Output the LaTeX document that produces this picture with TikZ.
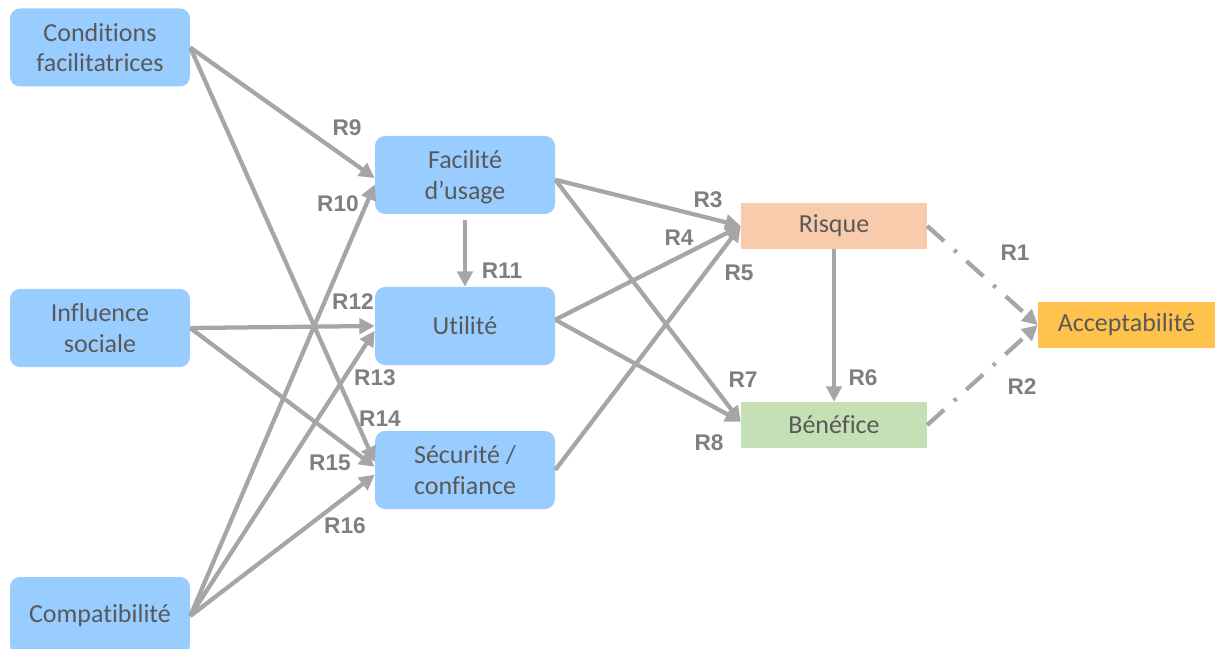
\documentclass[tikz,border=0pt]{standalone}
\usepackage{fontspec}
\setmainfont{Carlito}[Ligatures=NoCommon]
\newfontfamily\rfont{Liberation Sans}
\usepackage{tikz}
\usetikzlibrary{arrows.meta, positioning}

\definecolor{boxblue}{RGB}{153,204,255}
\definecolor{riskorange}{RGB}{248,203,173}
\definecolor{gaingreen}{RGB}{197,224,180}
\definecolor{acceptyellow}{RGB}{255,194,76}
\definecolor{arrowgray}{RGB}{166,166,166}
\definecolor{textgray}{RGB}{89,89,89}
\definecolor{labelgray}{RGB}{127,127,127}

\tikzset{
    factor/.style={rectangle, rounded corners=7.5pt, fill=boxblue, text=textgray,
        minimum width=135pt, minimum height=58.5pt, inner sep=0pt, align=center,
        font=\fontsize{19.5}{23}\selectfont},
    outcome/.style={rectangle, text=textgray, minimum width=139.5pt,
        minimum height=34.5pt, inner sep=0pt, font=\fontsize{19.5}{23}\selectfont},
    link/.style={draw=arrowgray, line width=3.2pt, -{Triangle[length=11.5pt, width=11.5pt]}},
    weaklink/.style={link, dash pattern=on 17pt off 10pt on 2.5pt off 10pt},
    rlabel/.style={text=labelgray, inner sep=0pt, font=\rfont\bfseries\fontsize{17}{17}\selectfont}
}

\begin{document}
\begin{tikzpicture}[x=0.75pt, y=-0.75pt]
    \useasboundingbox (0,0) rectangle (1215,649);

    % antecedents
    \node[factor] (cond)   at (100,47.5) {Conditions\\facilitatrices};
    \node[factor] (infl)   at (100,328)  {Influence\\sociale};
    \node[factor] (compat) at (100,616)  {Compatibilit\'e};

    % perceptions
    \node[factor, text depth=-9pt] (facil) at (465,175) {Facilit\'e\\d’usage};
    \node[factor] (util)  at (465,326) {Utilit\'e};
    \node[factor] (secu)  at (465,470) {S\'ecurit\'e /\\confiance};

    % risk / benefit / acceptability
    \node[outcome, fill=riskorange] (risque) at (834,226) {Risque};
    \node[outcome, fill=gaingreen]  (benef)  at (834,425) {B\'en\'efice};
    \node[outcome, fill=acceptyellow, minimum width=132.75pt] (accept) at (1126.5,325) {Acceptabilit\'e};

    % solid links
    \foreach \from/\to in {
        cond.east/facil.182,
        compat.east/facil.186,
        cond.east/secu.175,
        infl.east/util.west,
        compat.east/util.183,
        infl.east/secu.178,
        compat.east/secu.183,
        facil.357/risque.west,
        facil.357/benef.178,
        util.4/risque.west,
        util.4/benef.178,
        secu.east/risque.west,
        risque.south/benef.north}{

        \draw[link] (\from) -- (\to);
    }
    \draw[link, shorten <=4pt] (facil.south) -- (util.north);

    % dash-dotted links
    \draw[weaklink] (risque.east) -- (accept.west);
    \draw[weaklink] (benef.east) -- (accept.west);

    % relation labels
    \foreach \lab/\lx/\ly in {
        R1/1015/253, R2/1022/387, R3/708/200, R4/679/238,
        R5/739/273, R6/863/378, R7/743/380, R8/709/443,
        R9/347/128, R10/338/204, R11/502/271, R12/353/302,
        R13/375/378, R14/380/419, R15/330/463, R16/345/526}{

        \node[rlabel] (l\lab) at (\lx,\ly) {\lab};
    }
\end{tikzpicture}
\end{document}
